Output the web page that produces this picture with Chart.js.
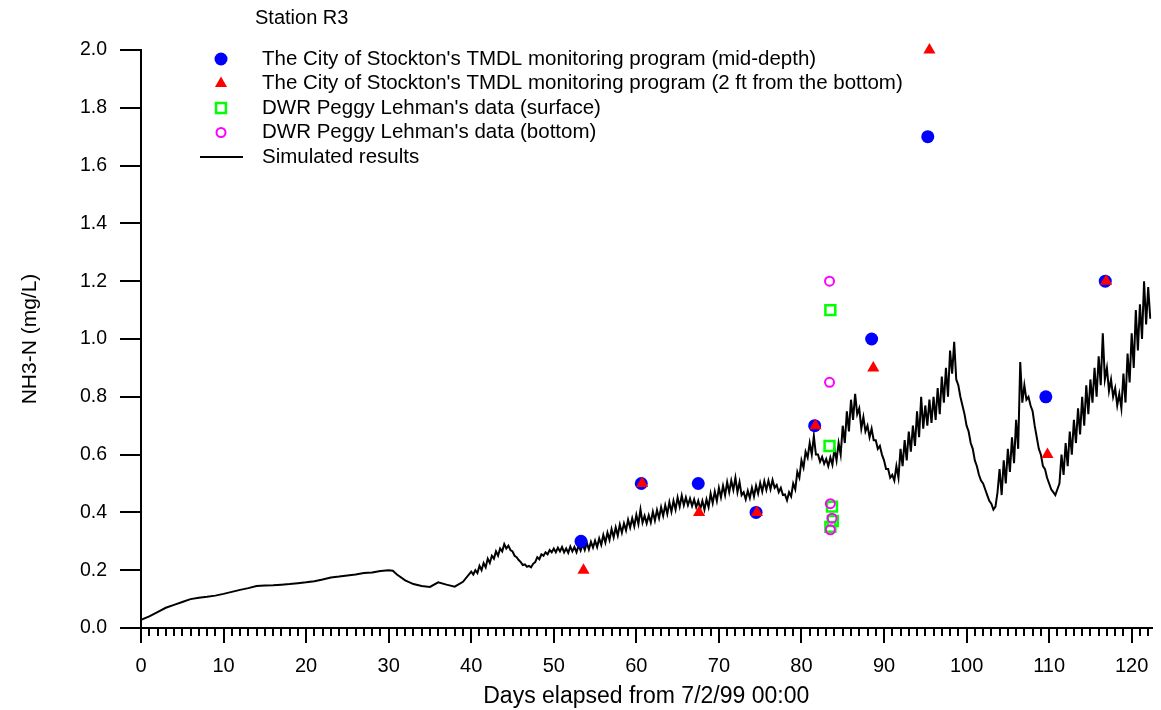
<!DOCTYPE html>
<html>
<head>
<meta charset="utf-8">
<script src="https://cdn.jsdelivr.net/npm/chart.js@4.4.1/dist/chart.umd.min.js"></script>
<style>
  html, body { margin: 0; padding: 0; background: #fff; }
  #wrap { width: 1161px; height: 710px; }
</style>
</head>
<body>
<div id="wrap"><canvas id="myChart" width="1161" height="710"></canvas></div>
<script>
// observed NH3-N, City of Stockton TMDL program
const stocktonMidX = [53.3, 60.6, 67.5, 74.5, 81.6, 88.5, 95.3, 109.6, 116.8];
const stocktonMidY = [0.30, 0.50, 0.50, 0.40, 0.70, 1.00, 1.70, 0.80, 1.20];
const stocktonBotX = [53.6, 60.7, 67.6, 74.6, 81.7, 88.7, 95.5, 109.8, 116.9];
const stocktonBotY = [0.20, 0.50, 0.40, 0.40, 0.70, 0.90, 2.00, 0.60, 1.20];

// DWR Peggy Lehman samples
const dwrSurfX = [83.5, 83.4, 83.7, 83.8, 83.5];
const dwrSurfY = [1.10, 0.63, 0.42, 0.37, 0.35];
const dwrBotX = [83.4, 83.4, 83.5, 83.7, 83.5];
const dwrBotY = [1.20, 0.85, 0.43, 0.38, 0.34];

// simulated results, days 0-40 (daily)
const simEarlyX = [0, 1, 2, 3, 4, 5, 6, 7, 8, 9, 10, 11, 12, 13, 14, 15, 16, 17, 18, 19,
  20, 21, 22, 23, 24, 25, 26, 27, 28, 29, 30, 30.5, 31, 32, 33, 34, 35, 36, 37, 38, 39];
const simEarlyY = [0.028, 0.04, 0.055, 0.07, 0.08, 0.09, 0.10, 0.105, 0.108, 0.112,
  0.118, 0.125, 0.132, 0.138, 0.145, 0.147, 0.148, 0.150, 0.152, 0.155,
  0.158, 0.162, 0.168, 0.175, 0.178, 0.182, 0.185, 0.19, 0.192, 0.197,
  0.20, 0.198, 0.185, 0.165, 0.152, 0.145, 0.142, 0.158, 0.15, 0.143, 0.16];

// simulated results from day 40, 6-hourly: [day, v+0h, v+6h, v+12h, v+18h]
const simTidal = [
  [40, 0.195, 0.185, 0.20, 0.19],
  [41, 0.215, 0.20, 0.225, 0.21],
  [42, 0.24, 0.225, 0.25, 0.24],
  [43, 0.265, 0.25, 0.275, 0.265],
  [44, 0.29, 0.275, 0.285, 0.27],
  [45, 0.265, 0.25, 0.245, 0.235],
  [46, 0.228, 0.218, 0.22, 0.212],
  [47, 0.215, 0.21, 0.222, 0.228],
  [48, 0.245, 0.238, 0.255, 0.25],
  [49, 0.262, 0.255, 0.27, 0.262],
  [50, 0.275, 0.262, 0.278, 0.265],
  [51, 0.28, 0.262, 0.275, 0.26],
  [52, 0.282, 0.265, 0.28, 0.262],
  [53, 0.285, 0.268, 0.29, 0.27],
  [54, 0.295, 0.272, 0.298, 0.278],
  [55, 0.302, 0.28, 0.31, 0.288],
  [56, 0.322, 0.296, 0.33, 0.305],
  [57, 0.342, 0.314, 0.348, 0.32],
  [58, 0.358, 0.33, 0.362, 0.338],
  [59, 0.375, 0.348, 0.38, 0.352],
  [60, 0.392, 0.36, 0.41, 0.365],
  [61, 0.388, 0.362, 0.39, 0.365],
  [62, 0.402, 0.372, 0.408, 0.38],
  [63, 0.418, 0.388, 0.425, 0.395],
  [64, 0.435, 0.402, 0.44, 0.41],
  [65, 0.452, 0.42, 0.458, 0.425],
  [66, 0.452, 0.425, 0.448, 0.422],
  [67, 0.445, 0.418, 0.44, 0.412],
  [68, 0.44, 0.41, 0.445, 0.418],
  [69, 0.465, 0.432, 0.472, 0.44],
  [70, 0.485, 0.452, 0.492, 0.46],
  [71, 0.505, 0.47, 0.51, 0.478],
  [72, 0.52, 0.47, 0.505, 0.46],
  [73, 0.47, 0.445, 0.475, 0.45],
  [74, 0.485, 0.455, 0.492, 0.465],
  [75, 0.502, 0.472, 0.508, 0.478],
  [76, 0.51, 0.48, 0.512, 0.485],
  [77, 0.495, 0.47, 0.485, 0.46],
  [78, 0.462, 0.442, 0.47, 0.455],
  [79, 0.50, 0.48, 0.54, 0.52],
  [80, 0.58, 0.555, 0.61, 0.59],
  [81, 0.64, 0.60, 0.665, 0.60],
  [82, 0.60, 0.575, 0.592, 0.568],
  [83, 0.585, 0.56, 0.59, 0.565],
  [84, 0.62, 0.58, 0.64, 0.60],
  [85, 0.70, 0.64, 0.75, 0.68],
  [86, 0.79, 0.72, 0.81, 0.74],
  [87, 0.76, 0.69, 0.73, 0.68],
  [88, 0.70, 0.66, 0.69, 0.65],
  [89, 0.65, 0.62, 0.63, 0.60],
  [90, 0.58, 0.55, 0.55, 0.52],
  [91, 0.53, 0.51, 0.56, 0.52],
  [92, 0.62, 0.56, 0.65, 0.58],
  [93, 0.68, 0.61, 0.70, 0.63],
  [94, 0.75, 0.66, 0.80, 0.69],
  [95, 0.77, 0.70, 0.79, 0.71],
  [96, 0.80, 0.72, 0.83, 0.74],
  [97, 0.87, 0.78, 0.90, 0.80],
  [98, 0.96, 0.88, 0.99, 0.86],
  [99, 0.84, 0.80, 0.77, 0.74],
  [100, 0.70, 0.68, 0.64, 0.62],
  [101, 0.58, 0.56, 0.53, 0.51],
  [102, 0.50, 0.48, 0.46, 0.44],
  [103, 0.43, 0.41, 0.42, 0.47],
  [104, 0.55, 0.46, 0.58, 0.50],
  [105, 0.62, 0.54, 0.66, 0.57],
  [106, 0.72, 0.62, 0.92, 0.78],
  [107, 0.84, 0.79, 0.80, 0.77],
  [108, 0.75, 0.70, 0.66, 0.62],
  [109, 0.60, 0.56, 0.55, 0.52],
  [110, 0.50, 0.48, 0.47, 0.46],
  [111, 0.48, 0.50, 0.60, 0.53],
  [112, 0.64, 0.56, 0.68, 0.60],
  [113, 0.72, 0.64, 0.76, 0.67],
  [114, 0.80, 0.70, 0.84, 0.74],
  [115, 0.86, 0.78, 0.90, 0.80],
  [116, 0.94, 0.84, 1.02, 0.86],
  [117, 0.90, 0.82, 0.86, 0.80],
  [118, 0.83, 0.77, 0.81, 0.76],
  [119, 0.88, 0.78, 0.95, 0.85],
  [120, 1.02, 0.90, 1.10, 0.96],
  [121, 1.12, 1.00, 1.20, 1.05],
  [122, 1.18, 1.07]
];

const xMax = 122.4;
const font = '"Liberation Sans", Arial, Helvetica, sans-serif';

function pairs(xs, ys) {
  return xs.map((x, i) => ({ x: x, y: ys[i] }));
}

const simPoints = pairs(simEarlyX, simEarlyY);
simTidal.forEach(row => {
  for (let i = 1; i < row.length; i++) {
    simPoints.push({ x: row[0] + (i - 1) * 0.25, y: row[i] });
  }
});

// legend + station name, drawn inside the plot area
const legendBox = {
  id: 'legendBox',
  afterDraw(chart) {
    const ctx = chart.ctx;
    ctx.save();
    ctx.fillStyle = '#000';
    ctx.textBaseline = 'middle';
    ctx.font = '20px ' + font;
    ctx.fillText('Station R3', 255, 18);

    ctx.font = '20.5px ' + font;
    chart.data.datasets.forEach((ds, i) => {
      const y = 59 + i * 24.5;
      const mx = 221;
      if (ds.showLine) {
        ctx.strokeStyle = ds.borderColor;
        ctx.lineWidth = 2;
        ctx.beginPath();
        ctx.moveTo(200, y);
        ctx.lineTo(243, y);
        ctx.stroke();
      } else {
        ctx.fillStyle = ds.backgroundColor;
        ctx.strokeStyle = ds.borderColor;
        ctx.lineWidth = ds.borderWidth;
        Chart.helpers.drawPoint(ctx, {
          pointStyle: ds.pointStyle,
          radius: ds.pointRadius,
          rotation: 0,
          borderWidth: ds.borderWidth
        }, mx, y);
      }
      ctx.fillStyle = '#000';
      ctx.fillText(ds.label, 262, y);
    });
    ctx.restore();
  }
};

// 1-day minor ticks under the x axis
const minorTicks = {
  id: 'minorTicks',
  afterDraw(chart) {
    const sx = chart.scales.x;
    const ctx = chart.ctx;
    const y0 = chart.chartArea.bottom;
    ctx.save();
    ctx.strokeStyle = '#000';
    ctx.lineWidth = 2;
    ctx.beginPath();
    for (let d = 1; d <= Math.floor(xMax); d++) {
      if (d % 10 === 0) continue;
      const px = Math.round(sx.getPixelForValue(d));
      ctx.moveTo(px, y0);
      ctx.lineTo(px, y0 + 8);
    }
    ctx.stroke();
    ctx.restore();
  }
};

const config = {
  type: 'scatter',
  data: {
    datasets: [
      {
        label: "The City of Stockton's TMDL monitoring program (mid-depth)",
        data: pairs(stocktonMidX, stocktonMidY),
        pointStyle: 'circle',
        pointRadius: 6.5,
        backgroundColor: '#0000ff',
        borderColor: '#0000ff',
        borderWidth: 0,
        clip: false,
        order: 4
      },
      {
        label: "The City of Stockton's TMDL monitoring program (2 ft from the bottom)",
        data: pairs(stocktonBotX, stocktonBotY),
        pointStyle: 'triangle',
        pointRadius: 7,
        backgroundColor: '#ff0000',
        borderColor: '#ff0000',
        borderWidth: 0,
        clip: false,
        order: 3
      },
      {
        label: "DWR Peggy Lehman's data (surface)",
        data: pairs(dwrSurfX, dwrSurfY),
        pointStyle: 'rect',
        pointRadius: 7,
        backgroundColor: 'rgba(0,0,0,0)',
        borderColor: '#00ff00',
        borderWidth: 2.5,
        clip: false,
        order: 2
      },
      {
        label: "DWR Peggy Lehman's data (bottom)",
        data: pairs(dwrBotX, dwrBotY),
        pointStyle: 'circle',
        pointRadius: 4.5,
        backgroundColor: 'rgba(0,0,0,0)',
        borderColor: '#ff00ff',
        borderWidth: 2,
        clip: false,
        order: 1
      },
      {
        label: 'Simulated results',
        data: simPoints,
        showLine: true,
        pointRadius: 0,
        borderColor: '#000',
        backgroundColor: '#000',
        borderWidth: 2,
        tension: 0,
        order: 5
      }
    ]
  },
  options: {
    responsive: false,
    animation: false,
    devicePixelRatio: 1,
    layout: { padding: { top: 50, right: 8, left: 0, bottom: 0 } },
    plugins: {
      legend: { display: false },
      tooltip: { enabled: false }
    },
    scales: {
      x: {
        type: 'linear',
        min: 0,
        max: xMax,
        afterFit: s => { s.height = 82; },
        ticks: {
          stepSize: 10,
          includeBounds: false,
          autoSkip: false,
          maxRotation: 0,
          padding: 11,
          color: '#000',
          font: { family: font, size: 20 }
        },
        grid: {
          drawOnChartArea: false,
          tickLength: 15,
          lineWidth: 2,
          color: '#000'
        },
        border: { color: '#000', width: 2 },
        title: {
          display: true,
          text: 'Days elapsed from 7/2/99 00:00',
          color: '#000',
          font: { family: font, size: 23 },
          padding: { top: 0, bottom: 0 }
        }
      },
      y: {
        min: 0,
        max: 2,
        afterFit: s => { s.width = 141; },
        ticks: {
          stepSize: 0.2,
          padding: 13,
          color: '#000',
          font: { family: font, size: 19.5 },
          callback: v => v.toFixed(1)
        },
        grid: {
          drawOnChartArea: false,
          tickLength: 21,
          lineWidth: 2,
          color: '#000'
        },
        border: { color: '#000', width: 2 },
        title: {
          display: true,
          text: 'NH3-N (mg/L)',
          color: '#000',
          font: { family: font, size: 21 },
          padding: { top: 18, bottom: 0 }
        }
      }
    }
  },
  plugins: [legendBox, minorTicks]
};

const myChart = new Chart(document.getElementById('myChart'), config);
</script>
</body>
</html>
